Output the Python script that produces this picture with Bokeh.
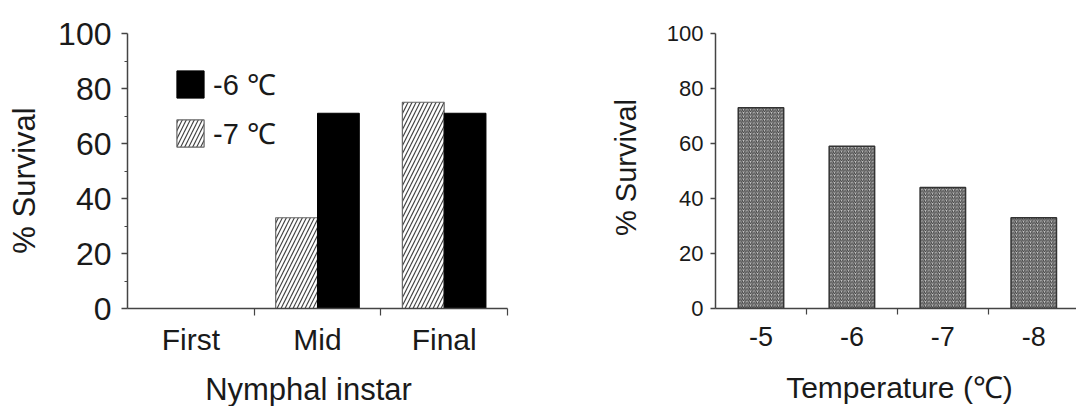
import math
from bokeh.plotting import figure
from bokeh.layouts import row
from bokeh.models import FixedTicker, Legend, LegendItem, ColumnDataSource, Label
from bokeh.embed import file_html
from bokeh.resources import INLINE

# Survival by nymphal instar at two temperatures
instars = ["First", "Mid", "Final"]
surv_minus6 = [0, 71, 71]
surv_minus7 = [0, 33, 75]

# Survival of final-instar nymphs by exposure temperature
temps = ["-5", "-6", "-7", "-8"]
surv_by_temp = [73, 59, 44, 33]

FONT = "Liberation Sans"
TXT = "#1a1a1a"
AX = "#444444"


def style_axes(p):
    for ax in (p.xaxis[0], p.yaxis[0]):
        ax.axis_line_color = AX
        ax.axis_line_width = 1.5
        ax.major_tick_line_color = AX
        ax.minor_tick_line_color = AX
        ax.major_tick_line_width = 1.5
        ax.minor_tick_line_width = 1.2
        ax.major_label_text_font = FONT
        ax.major_label_text_color = TXT
    p.grid.visible = False
    p.outline_line_color = None


def title_label(p, side, text, x, y, size, vertical=False):
    # axis titles in screen units, drawn in the side panel of the plot
    p.add_layout(Label(x=x, y=y, x_units="screen", y_units="screen", text=text,
                       angle=math.pi / 2 if vertical else 0,
                       text_align="center", text_baseline="middle",
                       text_font=FONT, text_font_size=size, text_color=TXT), side)


# ---- left panel ----
n1 = len(instars)
x_centers = [i + 0.5 for i in range(n1)]
bw = 0.33
src_l = ColumnDataSource(dict(
    x7=[c - bw / 2 for c in x_centers], x6=[c + bw / 2 for c in x_centers],
    s7=surv_minus7, s6=surv_minus6))

p1 = figure(width=540, height=406, x_range=(0, n1), y_range=(0, 100),
            output_backend="svg", toolbar_location=None,
            min_border_left=127, min_border_right=33,
            min_border_top=29, min_border_bottom=95)
r7 = p1.vbar(x="x7", top="s7", width=bw, source=src_l, fill_color="white",
             line_color="#666666", line_width=1.2,
             hatch_pattern="right_diagonal_line", hatch_color="#444444",
             hatch_scale=8, hatch_weight=1.2)
r6 = p1.vbar(x="x6", top="s6", width=bw, source=src_l, fill_color="black",
             line_color="black")

style_axes(p1)
p1.xaxis.ticker = FixedTicker(ticks=x_centers, minor_ticks=list(range(1, n1 + 1)))
p1.xaxis.major_label_overrides = {c: s for c, s in zip(x_centers, instars)}
p1.xaxis.major_tick_out = 0
p1.xaxis.major_tick_in = 0
p1.xaxis.minor_tick_out = 7
p1.xaxis.minor_tick_in = 0
p1.xaxis.major_label_text_font_size = "30px"
p1.xaxis.major_label_standoff = 7

p1.yaxis.ticker = FixedTicker(ticks=list(range(0, 101, 20)),
                              minor_ticks=list(range(10, 100, 20)))
p1.yaxis.major_tick_out = 6
p1.yaxis.major_tick_in = 0
p1.yaxis.minor_tick_out = 3
p1.yaxis.minor_tick_in = 0
p1.yaxis.major_label_text_font_size = "32px"
p1.yaxis.major_label_standoff = 10

title_label(p1, "left", "% Survival", 4, 128, "31px", vertical=True)
title_label(p1, "below", "Nymphal instar", 181, 4, "31px")

legend = Legend(items=[LegendItem(label="-6 \u2103", renderers=[r6]),
                       LegendItem(label="-7 \u2103", renderers=[r7])],
                location=(46, 156), padding=0, margin=0, spacing=10,
                glyph_width=34, glyph_height=34, label_height=34,
                label_standoff=6, border_line_color=None,
                background_fill_alpha=0, label_text_font=FONT,
                label_text_font_size="29px", label_text_color=TXT)
p1.add_layout(legend, "center")

# ---- right panel ----
n2 = len(temps)
t_centers = [i + 0.5 for i in range(n2)]
src_r = ColumnDataSource(dict(x=t_centers, s=surv_by_temp))

p2 = figure(width=536, height=406, x_range=(0, 3.97), y_range=(0, 100),
            output_backend="svg", toolbar_location=None,
            min_border_left=175, min_border_right=0,
            min_border_top=33, min_border_bottom=98)
p2.vbar(x="x", top="s", width=0.5, source=src_r, fill_color="#c8c8c8",
        line_color="#333333", line_width=1.5,
        hatch_pattern="right_diagonal_line", hatch_color="#383838",
        hatch_scale=3.5, hatch_weight=1.0)

style_axes(p2)
p2.xaxis.ticker = FixedTicker(ticks=t_centers, minor_ticks=list(range(1, n2 + 1)))
p2.xaxis.major_label_overrides = {c: s for c, s in zip(t_centers, temps)}
p2.xaxis.major_tick_out = 0
p2.xaxis.major_tick_in = 0
p2.xaxis.minor_tick_out = 6
p2.xaxis.minor_tick_in = 0
p2.xaxis.major_label_text_font_size = "27px"
p2.xaxis.major_label_standoff = 12

p2.yaxis.ticker = FixedTicker(ticks=list(range(0, 101, 20)))
p2.yaxis.major_tick_out = 5
p2.yaxis.major_tick_in = 0
p2.yaxis.minor_tick_out = 0
p2.yaxis.minor_tick_in = 0
p2.yaxis.major_label_text_font_size = "22px"
p2.yaxis.major_label_standoff = 7

title_label(p2, "left", "% Survival", -6, 141, "29px", vertical=True)
title_label(p2, "below", "Temperature (\u2103)", 184, -6, "30px")

layout = row(p1, p2)
open("out.html", "w").write(file_html(layout, INLINE))
